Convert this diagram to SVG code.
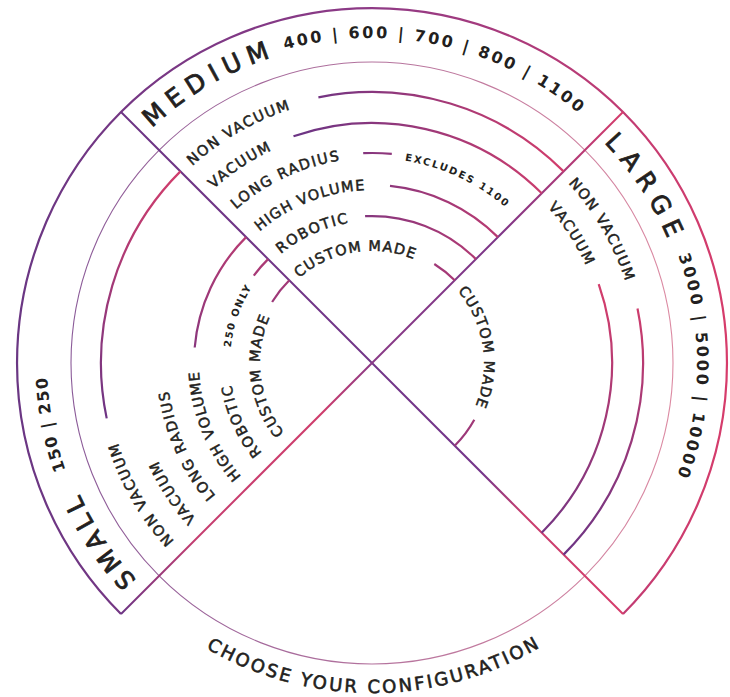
<svg xmlns="http://www.w3.org/2000/svg" xmlns:xlink="http://www.w3.org/1999/xlink" width="730" height="697" viewBox="0 0 730 697">
<style>
  .t { font-family: "DejaVu Sans", "Liberation Sans", sans-serif; fill: #231f20; }
  .band { font-size: 25px; stroke: #231f20; stroke-width: 0.8; }
  .num { font-size: 16px; font-weight: bold; }
  .lbl { font-size: 14.5px; stroke: #231f20; stroke-width: 0.5; }
  .tiny { font-size: 10px; font-weight: bold; }
  .choose { font-size: 18px; stroke: #231f20; stroke-width: 0.6; }
  .arc { fill: none; stroke-width: 2.2; stroke-linecap: butt; }
  .div { fill: none; stroke-width: 2; }
</style>
<defs>
  <linearGradient id="gOuter" gradientUnits="userSpaceOnUse" x1="17" y1="0" x2="727" y2="0">
    <stop offset="0" stop-color="#6a3683"/><stop offset="0.5" stop-color="#8e3a86"/><stop offset="1" stop-color="#d63c6b"/>
  </linearGradient>
  <linearGradient id="gThin" gradientUnits="userSpaceOnUse" x1="70" y1="0" x2="673" y2="0">
    <stop offset="0" stop-color="#8a5a98"/><stop offset="1" stop-color="#dc8aa2"/>
  </linearGradient>
  <linearGradient id="gMed" gradientUnits="userSpaceOnUse" x1="300" y1="0" x2="560" y2="0">
    <stop offset="0" stop-color="#6c3484"/><stop offset="1" stop-color="#d13d6c"/>
  </linearGradient>
  <linearGradient id="gSmall" gradientUnits="userSpaceOnUse" x1="0" y1="420" x2="0" y2="170">
    <stop offset="0" stop-color="#6c3484"/><stop offset="1" stop-color="#d13d6c"/>
  </linearGradient>
  <linearGradient id="gLarge" gradientUnits="userSpaceOnUse" x1="0" y1="300" x2="0" y2="555">
    <stop offset="0" stop-color="#d13d6c"/><stop offset="1" stop-color="#6c3484"/>
  </linearGradient>
  <linearGradient id="gD1" gradientUnits="userSpaceOnUse" x1="121" y1="112" x2="623" y2="614">
    <stop offset="0" stop-color="#6c3484"/><stop offset="0.72" stop-color="#74358a"/><stop offset="0.8" stop-color="#c83d6e"/><stop offset="1" stop-color="#d63c6b"/>
  </linearGradient>
  <linearGradient id="gD2" gradientUnits="userSpaceOnUse" x1="623" y1="112" x2="121" y2="614">
    <stop offset="0" stop-color="#d63c6b"/><stop offset="0.25" stop-color="#7c3688"/><stop offset="0.5" stop-color="#8a3a86"/><stop offset="0.6" stop-color="#cf3d6c"/><stop offset="0.85" stop-color="#c53e70"/><stop offset="1" stop-color="#6c3484"/>
  </linearGradient>
  <path id="c320" d="M145.73,589.27 A320,320 0 1 1 598.27,136.73 A320,320 0 1 1 145.73,589.27"/>
  <path id="c324" d="M142.90,592.10 A324,324 0 1 1 601.10,133.90 A324,324 0 1 1 142.90,592.10"/>
  <path id="c266" d="M183.91,551.09 A266,266 0 1 1 560.09,174.91 A266,266 0 1 1 183.91,551.09"/>
  <path id="c235" d="M205.83,529.17 A235,235 0 1 1 538.17,196.83 A235,235 0 1 1 205.83,529.17"/>
  <path id="c205" d="M227.04,507.96 A205,205 0 1 1 516.96,218.04 A205,205 0 1 1 227.04,507.96"/>
  <path id="c173" d="M249.67,485.33 A173,173 0 1 1 494.33,240.67 A173,173 0 1 1 249.67,485.33"/>
  <path id="c142" d="M271.59,463.41 A142,142 0 1 1 472.41,262.59 A142,142 0 1 1 271.59,463.41"/>
  <path id="c112" d="M292.80,442.20 A112,112 0 1 1 451.20,283.80 A112,112 0 1 1 292.80,442.20"/>
  <path id="cBottom" d="M159.9,615.8 A330,330 0 0 0 584.1,615.8"/>
</defs>

<g id="frame">
  <circle cx="372" cy="363" r="301" fill="none" stroke="url(#gThin)" stroke-width="1.1"/>
  <path d="M121,614 A355,355 0 1 1 623,614" fill="none" stroke="url(#gOuter)" stroke-width="2.2"/>
</g>

<g id="connectors">
  <line class="div" x1="121" y1="112" x2="623" y2="614" stroke="url(#gD1)"/>
  <line class="div" x1="623" y1="112" x2="121" y2="614" stroke="url(#gD2)"/>
  <g stroke="url(#gMed)">
    <path class="arc" d="M318.4,97.3 A271,271 0 0 1 563.6,171.4"/>
    <path class="arc" d="M293.5,136.2 A240,240 0 0 1 541.7,193.3"/>
    <path class="arc" d="M363.2,153.2 A210,210 0 0 1 391.8,153.9"/>
    <path class="arc" d="M390.0,185.9 A178,178 0 0 1 497.9,237.1"/>
    <path class="arc" d="M365.1,216.2 A147,147 0 0 1 475.9,259.1"/>
    <path class="arc" d="M434.3,264.0 A117,117 0 0 1 454.7,280.3"/>
  </g>
  <g stroke="url(#gSmall)">
    <path class="arc" d="M106.7,418.4 A271,271 0 0 1 180.4,171.4"/>
    <path class="arc" d="M194.7,347.5 A178,178 0 0 1 246.1,237.1"/>
    <path class="arc" d="M253.8,275.6 A147,147 0 0 1 268.1,259.1"/>
    <path class="arc" d="M272.1,302.0 A117,117 0 0 1 289.3,280.3"/>
  </g>
  <g stroke="url(#gLarge)">
    <path class="arc" d="M637.5,308.5 A271,271 0 0 1 563.6,554.6"/>
    <path class="arc" d="M598.7,284.1 A240,240 0 0 1 541.7,532.7"/>
    <path class="arc" d="M474.3,419.7 A117,117 0 0 1 454.7,445.7"/>
  </g>
</g>

<g id="small">
  <text class="t band"><textPath href="#c320" xlink:href="#c320" startOffset="13" textLength="103" lengthAdjust="spacing">SMALL</textPath></text>
  <text class="t num"><textPath href="#c324" xlink:href="#c324" startOffset="145.9" textLength="94.4" lengthAdjust="spacing">150 | 250</textPath></text>
  <text class="t lbl"><textPath href="#c266" xlink:href="#c266" startOffset="13.9" textLength="114" lengthAdjust="spacing">NON VACUUM</textPath></text>
  <text class="t lbl"><textPath href="#c235" xlink:href="#c235" startOffset="13.9" textLength="70" lengthAdjust="spacing">VACUUM</textPath></text>
  <text class="t lbl"><textPath href="#c205" xlink:href="#c205" startOffset="16.8" textLength="116" lengthAdjust="spacing">LONG RADIUS</textPath></text>
  <text class="t lbl"><textPath href="#c173" xlink:href="#c173" startOffset="12.1" textLength="115" lengthAdjust="spacing">HIGH VOLUME</textPath></text>
  <text class="t lbl"><textPath href="#c142" xlink:href="#c142" startOffset="14.1" textLength="75" lengthAdjust="spacing">ROBOTIC</textPath></text>
  <text class="t tiny"><textPath href="#c142" xlink:href="#c142" startOffset="127.1" textLength="63.7" lengthAdjust="spacing">250 ONLY</textPath></text>
  <text class="t lbl"><textPath href="#c112" xlink:href="#c112" startOffset="12.9" textLength="122" lengthAdjust="spacing">CUSTOM MADE</textPath></text>
</g>

<g id="medium">
  <text class="t band"><textPath href="#c320" xlink:href="#c320" startOffset="515" textLength="139" lengthAdjust="spacing">MEDIUM</textPath></text>
  <text class="t num"><textPath href="#c324" xlink:href="#c324" startOffset="677.5" textLength="312" lengthAdjust="spacing">400 | 600 | 700 | 800 | 1100</textPath></text>
  <text class="t lbl"><textPath href="#c266" xlink:href="#c266" startOffset="430.4" textLength="114" lengthAdjust="spacing">NON VACUUM</textPath></text>
  <text class="t lbl"><textPath href="#c235" xlink:href="#c235" startOffset="380.2" textLength="70" lengthAdjust="spacing">VACUUM</textPath></text>
  <text class="t lbl"><textPath href="#c205" xlink:href="#c205" startOffset="334.2" textLength="116" lengthAdjust="spacing">LONG RADIUS</textPath></text>
  <text class="t tiny"><textPath href="#c205" xlink:href="#c205" startOffset="515.6" textLength="112" lengthAdjust="spacing">EXCLUDES 1100</textPath></text>
  <text class="t lbl"><textPath href="#c173" xlink:href="#c173" startOffset="285" textLength="115" lengthAdjust="spacing">HIGH VOLUME</textPath></text>
  <text class="t lbl"><textPath href="#c142" xlink:href="#c142" startOffset="235.7" textLength="75" lengthAdjust="spacing">ROBOTIC</textPath></text>
  <text class="t lbl"><textPath href="#c112" xlink:href="#c112" startOffset="184.3" textLength="122" lengthAdjust="spacing">CUSTOM MADE</textPath></text>
</g>

<g id="large">
  <text class="t band"><textPath href="#c320" xlink:href="#c320" startOffset="1017" textLength="116" lengthAdjust="spacing">LARGE</textPath></text>
  <text class="t num"><textPath href="#c324" xlink:href="#c324" startOffset="1165.5" textLength="224.5" lengthAdjust="spacing">3000 | 5000 | 10000</textPath></text>
  <text class="t lbl"><textPath href="#c266" xlink:href="#c266" startOffset="848.2" textLength="114" lengthAdjust="spacing">NON VACUUM</textPath></text>
  <text class="t lbl"><textPath href="#c235" xlink:href="#c235" startOffset="752.6" textLength="70" lengthAdjust="spacing">VACUUM</textPath></text>
  <text class="t lbl"><textPath href="#c112" xlink:href="#c112" startOffset="361.2" textLength="122" lengthAdjust="spacing">CUSTOM MADE</textPath></text>
</g>

<g id="caption">
  <text class="t choose"><textPath href="#cBottom" xlink:href="#cBottom" startOffset="56.4" textLength="349.6" lengthAdjust="spacing">CHOOSE YOUR CONFIGURATION</textPath></text>
</g>
</svg>
